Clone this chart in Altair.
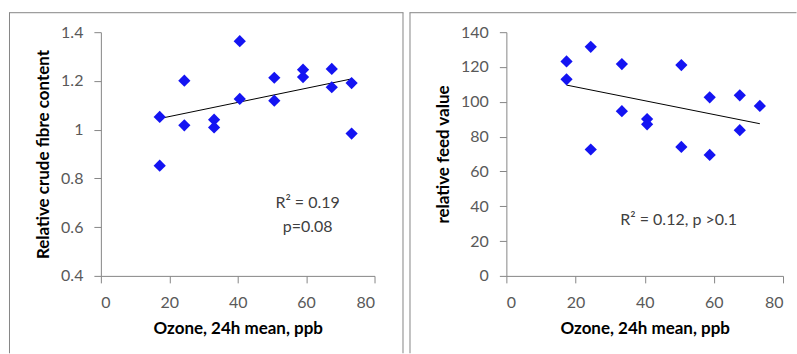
import altair as alt
import pandas as pd

# ---- data ----
ozone_fibre = [17.2, 17.2, 24.4, 24.4, 33.1, 33.1, 40.6, 40.6, 50.7, 50.7, 59.1, 59.1, 67.5, 67.5, 73.3, 73.3]
fibre = [1.052, 0.852, 1.201, 1.018, 1.041, 1.009, 1.363, 1.126, 1.213, 1.119, 1.246, 1.216, 1.249, 1.174, 1.191, 0.984]

ozone_feed = [17.4, 17.4, 24.4, 24.4, 33.4, 33.4, 40.7, 40.7, 50.6, 50.6, 58.8, 58.8, 67.5, 67.5, 73.3]
feed = [123.2, 112.9, 131.6, 72.6, 121.7, 94.6, 90.1, 87.1, 121.1, 74.1, 102.6, 69.5, 103.7, 83.7, 97.6]

x_ticks = [0, 20, 40, 60, 80]
fibre_ticks = [0.4, 0.6, 0.8, 1.0, 1.2, 1.4]
feed_ticks = [0, 20, 40, 60, 80, 100, 120, 140]

x_title = "Ozone, 24h mean, ppb"
fibre_title = "Relative crude fibre content"
feed_title = "relative feed value"
fibre_note = ["R² = 0.19", "p=0.08"]
feed_note = "R² = 0.12, p >0.1"

BLUE = "#1414F2"
GREY = "#868686"
FONT = "Lato"

df1 = pd.DataFrame({"ozone": ozone_fibre, "value": fibre})
df2 = pd.DataFrame({"ozone": ozone_feed, "value": feed})
one = pd.DataFrame({"k": [0]})

W1, W2, H = 274, 277, 244


def rule_v(x, y1, y2):
    return alt.Chart(one).mark_rule(color=GREY, strokeWidth=1).encode(
        x=alt.value(x), y=alt.value(y1), y2=alt.value(y2))


def rule_h(x1, x2, y):
    return alt.Chart(one).mark_rule(color=GREY, strokeWidth=1).encode(
        x=alt.value(x1), x2=alt.value(x2), y=alt.value(y))


def note(x, y, txt):
    return alt.Chart(one).mark_text(font=FONT, fontSize=16, color="#404040",
                                    align="center", baseline="middle").encode(
        x=alt.value(x), y=alt.value(y), text=alt.value(txt))


def panel(df, ydomain, yticks, yfmt, ytitle):
    xenc = alt.X("ozone:Q", scale=alt.Scale(domain=[0, 80], nice=False),
                 axis=alt.Axis(values=x_ticks, title=x_title))
    yenc = alt.Y("value:Q", scale=alt.Scale(domain=ydomain, nice=False, zero=False),
                 axis=alt.Axis(values=yticks, format=yfmt, title=ytitle))
    pts = alt.Chart(df).mark_point(shape="diamond", filled=True, size=150,
                                    color=BLUE, opacity=1).encode(x=xenc, y=yenc)
    trend = alt.Chart(df).transform_regression("ozone", "value").mark_line(
        color="black", strokeWidth=1).encode(x=xenc, y=yenc)
    return [trend, pts]


left_layers = panel(df1, [0.4, 1.4], fibre_ticks, ".1~f", fibre_title)
left_layers += [
    rule_v(-91.5, -19.5, 321.5),
    rule_h(-92, 303, -19.5),
    rule_v(302.5, -19.5, 321.5),
    note(207, 171, fibre_note[0]),
    note(207, 195, fibre_note[1]),
]
left = alt.layer(*left_layers).properties(width=W1, height=H)

right_layers = panel(df2, [0, 140], feed_ticks, "d", feed_title)
right_layers += [
    rule_v(-96.5, -19.5, 321.5),
    rule_h(-97, 290.5, -19.5),
    note(172.5, 188, feed_note),
]
right = alt.layer(*right_layers).properties(width=W2, height=H)

chart = alt.hconcat(left, right, spacing=132, bounds="flush").properties(
    padding={"left": 8, "top": 12, "right": 0, "bottom": 0},
    background="white",
).configure_view(stroke=None).configure_axis(
    grid=False,
    domainColor=GREY,
    tickColor=GREY,
    tickSize=7,
    labelFont=FONT,
    labelFontSize=16,
    labelColor="#595959",
    labelPadding=11,
    titleFont=FONT,
    titleFontSize=17,
    titleFontWeight="bold",
    titleColor="black",
).configure_axisX(labelPadding=12, titlePadding=10).configure_axisY(titlePadding=8)

chart.save("out.html", embed_options={"renderer": "svg", "actions": False})
